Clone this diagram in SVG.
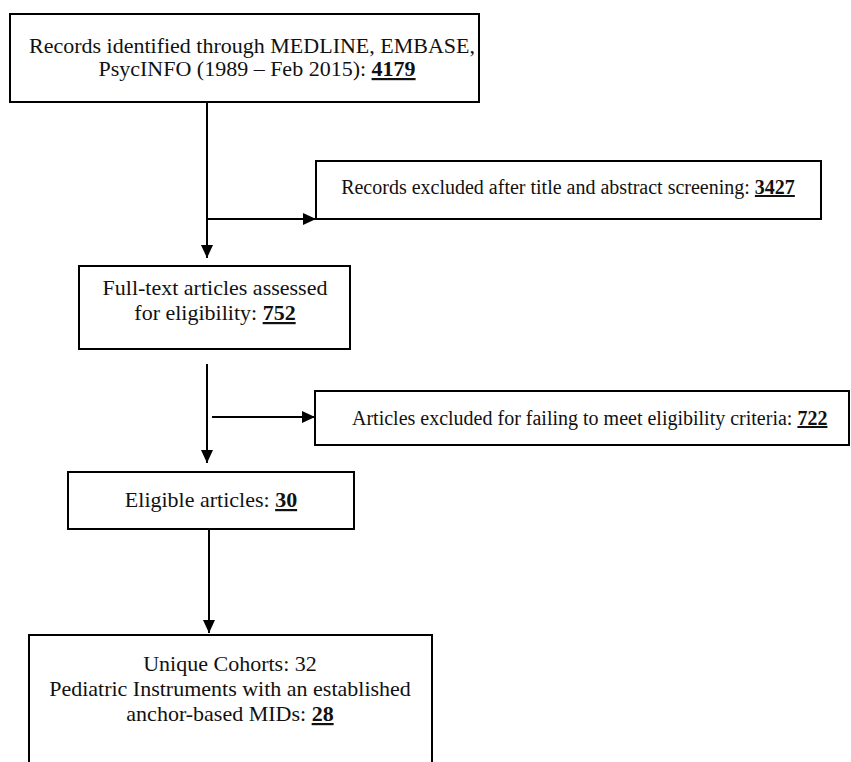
<svg xmlns="http://www.w3.org/2000/svg" width="851" height="762" viewBox="0 0 851 762">
<style>
.box{fill:#fff;stroke:#000;stroke-width:2}
.t{font-family:"Liberation Serif","Times New Roman",serif;font-size:22px;fill:#111}
.s{font-size:20px}
.n{font-weight:bold;text-decoration:underline}
.c{stroke:#000;stroke-width:2;fill:none}
</style>
<defs>
<marker id="ah" markerWidth="13" markerHeight="12" refX="13" refY="6" orient="auto" markerUnits="userSpaceOnUse">
<path d="M0,0 L13,6 L0,12 Z" fill="#000"/>
</marker>
</defs>
<rect width="851" height="762" fill="#fff"/>
<g id="connectors">
<line class="c" x1="207" y1="102" x2="207" y2="258" marker-end="url(#ah)"/>
<line class="c" x1="207" y1="219" x2="316" y2="219" marker-end="url(#ah)"/>
<line class="c" x1="207" y1="364" x2="207" y2="463" marker-end="url(#ah)"/>
<line class="c" x1="212" y1="417" x2="315" y2="417" marker-end="url(#ah)"/>
<line class="c" x1="209" y1="529" x2="209" y2="633" marker-end="url(#ah)"/>
</g>
<g id="records">
<rect class="box" x="10" y="14" width="469" height="88"/>
<text class="t" x="252" y="53" text-anchor="middle">Records identified through MEDLINE, EMBASE,</text>
<text class="t" x="257" y="76" text-anchor="middle">PsycINFO (1989 – Feb 2015): <tspan class="n">4179</tspan></text>
</g>
<g id="excluded1">
<rect class="box" x="316" y="161" width="505" height="58"/>
<text class="t s" x="568" y="194" text-anchor="middle">Records excluded after title and abstract screening: <tspan class="n">3427</tspan></text>
</g>
<g id="fulltext">
<rect class="box" x="79" y="266" width="271" height="83"/>
<text class="t" x="215" y="295" text-anchor="middle">Full-text articles assessed</text>
<text class="t" x="215" y="320" text-anchor="middle">for eligibility: <tspan class="n">752</tspan></text>
</g>
<g id="excluded2">
<rect class="box" x="315" y="391" width="534" height="54"/>
<text class="t s" x="352" y="425">Articles excluded for failing to meet eligibility criteria: <tspan class="n">722</tspan></text>
</g>
<g id="eligible">
<rect class="box" x="68" y="472" width="286" height="57"/>
<text class="t" x="211" y="507" text-anchor="middle">Eligible articles: <tspan class="n">30</tspan></text>
</g>
<g id="cohorts">
<rect class="box" x="29" y="635" width="403" height="140"/>
<text class="t" x="230" y="671" text-anchor="middle">Unique Cohorts: 32</text>
<text class="t" x="230" y="696" text-anchor="middle">Pediatric Instruments with an established</text>
<text class="t" x="230" y="721" text-anchor="middle">anchor-based MIDs: <tspan class="n">28</tspan></text>
</g>
</svg>
